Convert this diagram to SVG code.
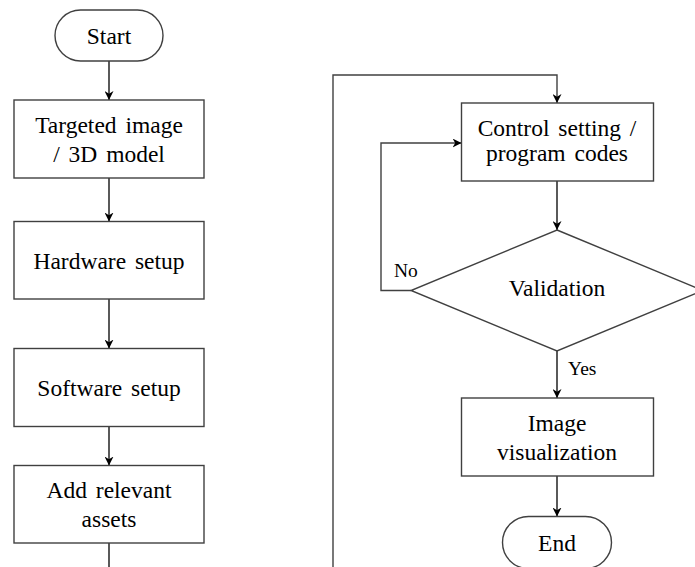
<svg xmlns="http://www.w3.org/2000/svg" width="695" height="567" viewBox="0 0 695 567">
<style>
.n{fill:#fff;stroke:#404040;stroke-width:1.4}
.t{font-family:"Liberation Serif","Times New Roman",serif;font-size:23.5px;word-spacing:3px;fill:#000;text-anchor:middle}
.l{font-family:"Liberation Serif","Times New Roman",serif;font-size:19.5px;fill:#000}
.c{fill:none;stroke:#000;stroke-width:1.3}
.c2{fill:none;stroke:#404040;stroke-width:1.4}
</style>
<defs>
<marker id="a" viewBox="0 0 10 10" refX="10" refY="5" markerWidth="9" markerHeight="9" markerUnits="userSpaceOnUse" orient="auto">
<path d="M0,0 L10,5 L0,10 L3,5 Z" fill="#000"/>
</marker>
</defs>
<rect width="695" height="567" fill="#fff"/>
<g id="connectors">
<path class="c" d="M109,61 V100" marker-end="url(#a)"/>
<path class="c" d="M109,178 V221.5" marker-end="url(#a)"/>
<path class="c" d="M109,299 V348.5" marker-end="url(#a)"/>
<path class="c" d="M109,427 V465.5" marker-end="url(#a)"/>
<path class="c" d="M109,543 V567"/>
<path class="c2" d="M333,567 V75 H557 V103" marker-end="url(#a)"/>
<path class="c" d="M557,181 V230" marker-end="url(#a)"/>
<path class="c2" d="M411,290.5 H381 V143 H461.5" marker-end="url(#a)"/>
<path class="c" d="M557,351 V398" marker-end="url(#a)"/>
<path class="c" d="M557,476 V516.5" marker-end="url(#a)"/>
<text class="l" x="394" y="277">No</text>
<text class="l" x="568" y="375">Yes</text>
</g>
<g id="start">
<rect class="n" x="55" y="10" width="108" height="51" rx="25.5"/>
<text class="t" x="109" y="44">Start</text>
</g>
<g id="targeted">
<rect class="n" x="14" y="100" width="190" height="78"/>
<text class="t" x="109" y="133">Targeted image</text>
<text class="t" x="109" y="162">/ 3D model</text>
</g>
<g id="hardware">
<rect class="n" x="14" y="221.5" width="190" height="77.5"/>
<text class="t" x="109" y="269">Hardware setup</text>
</g>
<g id="software">
<rect class="n" x="14" y="348.5" width="190" height="78"/>
<text class="t" x="109" y="396">Software setup</text>
</g>
<g id="assets">
<rect class="n" x="14" y="465.5" width="190" height="77.5"/>
<text class="t" x="109" y="498">Add relevant</text>
<text class="t" x="109" y="527">assets</text>
</g>
<g id="control">
<rect class="n" x="461.5" y="103" width="192" height="78"/>
<text class="t" x="557" y="136">Control setting /</text>
<text class="t" x="557" y="161">program codes</text>
</g>
<g id="validation">
<polygon class="n" points="557,230 703,290.5 557,351 411,290.5"/>
<text class="t" x="557" y="296">Validation</text>
</g>
<g id="visual">
<rect class="n" x="461.5" y="398" width="192" height="78"/>
<text class="t" x="557" y="431">Image</text>
<text class="t" x="557" y="460">visualization</text>
</g>
<g id="end">
<rect class="n" x="502.5" y="516.5" width="109" height="52" rx="26"/>
<text class="t" x="557" y="551">End</text>
</g>
</svg>
